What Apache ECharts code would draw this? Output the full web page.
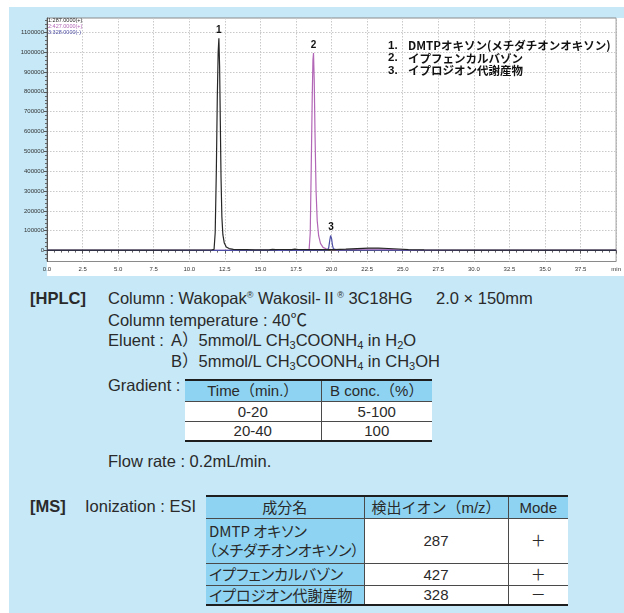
<!DOCTYPE html>
<html lang="ja">
<head>
<meta charset="utf-8">
<title>HPLC/MS 分析例</title>
<script src="https://cdn.jsdelivr.net/npm/echarts@6/dist/echarts.min.js"></script>
<style>
html,body{margin:0;padding:0;background:#fff;}
#page{position:relative;width:624px;height:613px;overflow:hidden;}
#panel{position:absolute;left:9px;top:7px;right:0;bottom:0;background:#c6e8f7;}
#plotbg{position:absolute;left:47px;top:18px;width:577px;height:258px;background:#fff;}
#chart{position:absolute;left:0;top:0;width:624px;height:282px;}
.t{position:absolute;white-space:nowrap;font-family:"Liberation Sans","Noto Sans CJK JP",sans-serif;font-size:16.5px;line-height:18px;color:#2a2a2a;}
.b{font-weight:bold;}
sub{font-size:11px;vertical-align:-3px;line-height:0;}
sup{font-size:9px;vertical-align:6px;line-height:0;}
table{position:absolute;border-collapse:collapse;table-layout:fixed;font-family:"Liberation Sans","Noto Sans CJK JP",sans-serif;font-size:15px;color:#2a2a2a;}
th,td{padding:0;font-weight:normal;text-align:center;border:1px solid #4a4a4a;line-height:17px;}
th{background:#8ed4f2;}
td{background:#fff;}
td.name{background:#8ed4f2;text-align:left;padding-left:3px;font-family:"Noto Sans CJK JP",sans-serif;font-feature-settings:"palt" 1;line-height:18.5px;}
tr:first-child th{border-top:2px solid #1e1e1e;}
tr:last-child td{border-bottom:2px solid #1e1e1e;}
th:first-child,td:first-child{border-left:none;}
th:last-child,td:last-child{border-right:none;}
</style>
</head>
<body>
<div id="page">
  <div id="panel"></div>
  <div id="plotbg"></div>
  <div id="chart"></div>

  <div class="t b" style="left:30px;top:289px">[HPLC]</div>
  <div class="t" style="left:108px;top:289px">Column : Wakopak<sup>®</sup> Wakosil-Ⅱ<sup>®</sup> 3C18HG</div>
  <div class="t" style="left:436px;top:289px">2.0 × 150mm</div>
  <div class="t" style="left:108px;top:310.5px">Column temperature : 40℃</div>
  <div class="t" style="left:108px;top:331px">Eluent :</div>
  <div class="t" style="left:171px;top:331px">A）5mmol/L CH<sub>3</sub>COONH<sub>4</sub> in H<sub>2</sub>O</div>
  <div class="t" style="left:171px;top:351.5px">B）5mmol/L CH<sub>3</sub>COONH<sub>4</sub> in CH<sub>3</sub>OH</div>
  <div class="t" style="left:108px;top:376px">Gradient :</div>
  <table id="gradTable" style="left:185px;top:379px;width:247px;"></table>
  <div class="t" style="left:108px;top:451.5px">Flow rate : 0.2mL/min.</div>

  <div class="t b" style="left:30px;top:497px">[MS]</div>
  <div class="t" style="left:85px;top:497px">Ionization : ESI</div>
  <table id="msTable" style="left:206px;top:495px;width:362px;"></table>
</div>

<script>
// Chromatogram traces (retention time in min, intensity in counts)
const rt287 = [0, 4, 8, 11.55, 11.74, 11.82, 11.9, 11.97, 12.03, 12.08, 12.13, 12.18, 12.23, 12.29, 12.36, 12.46, 12.6, 12.8, 13.1, 13.6, 13.8, 13.9, 14.05, 14.6, 15.6, 15.85, 15.95, 16.08, 16.3, 16.42, 16.55, 17.2, 17.42, 17.52, 17.65, 18.3, 19.2, 20.2, 21.0, 21.8, 22.6, 23.3, 24.0, 24.7, 25.4, 26.5, 30, 35, 40];
const int287 = [2500, 2500, 2500, 3000, 6000, 90000, 400000, 780000, 1000000, 1070000, 930000, 650000, 370000, 170000, 80000, 38000, 18000, 10000, 6000, 4500, 5500, 7500, 5000, 4000, 4000, 6500, 8000, 5000, 5500, 8500, 5500, 5000, 7500, 11000, 5500, 4500, 4500, 5000, 7000, 10000, 12000, 12000, 10500, 8000, 5000, 3500, 2500, 2500, 2500];

const rt427 = [0, 5, 10, 15, 18.0, 18.42, 18.5, 18.57, 18.64, 18.69, 18.73, 18.78, 18.84, 18.91, 18.99, 19.09, 19.22, 19.4, 19.65, 20.0, 20.6, 21.5, 22.4, 23.3, 24.2, 25.2, 26.5, 40];
const int427 = [1000, 1000, 1000, 1500, 2000, 3500, 90000, 420000, 770000, 960000, 995000, 860000, 570000, 300000, 150000, 75000, 36000, 16000, 8000, 5000, 4000, 5500, 7500, 7500, 5500, 3000, 1500, 1000];

const rt328 = [0, 10, 19.0, 19.72, 19.8, 19.87, 19.93, 19.96, 20.0, 20.06, 20.13, 20.22, 20.4, 21.5, 40];
const int328 = [1000, 1000, 1500, 2500, 15000, 50000, 76000, 78000, 60000, 28000, 9000, 4000, 2500, 2000, 1000];

const traceNames = ['1:287.0000(+)', '2:427.0000(+)', '3:328.0000(-)'];
const traceColors = ['#262626', '#b266b6', '#4e4ea6'];
const peakLabels = ['1', '2', '3'];
const compoundNames = ['DMTPオキソン(メチダチオンオキソン)', 'イプフェンカルバゾン', 'イプロジオン代謝産物'];

// Axis ticks
const yTicks = [0, 100000, 200000, 300000, 400000, 500000, 600000, 700000, 800000, 900000, 1000000, 1100000];
const yMinorTicks = [];
for (let v = -40000; v <= 1160000; v += 20000) if (v % 100000 !== 0) yMinorTicks.push(v);
const xUnit = 'min';

// Method tables
const gradHead = ['Time（min.）', 'B conc.（%）'];
const gradTime = ['0-20', '20-40'];
const gradConc = ['5-100', '100'];

const msHead = ['成分名', '検出イオン（m/z）', 'Mode'];
const msNames = ['DMTP オキソン<br>（メチダチオンオキソン）', 'イプフェンカルバゾン', 'イプロジオン代謝産物'];
const msIons = [287, 427, 328];
const msModes = ['＋', '＋', '－'];

function buildTables() {
  const g = document.getElementById('gradTable');
  let h = '<colgroup><col style="width:136px"><col style="width:111px"></colgroup>';
  h += '<tr style="height:21px">' + gradHead.map(s => '<th>' + s + '</th>').join('') + '</tr>';
  gradTime.forEach((t, i) => {
    h += '<tr style="height:20px"><td>' + t + '</td><td>' + gradConc[i] + '</td></tr>';
  });
  g.innerHTML = h;

  const m = document.getElementById('msTable');
  const rowH = [45, 22, 20];
  let k = '<colgroup><col style="width:158px"><col style="width:144px"><col style="width:60px"></colgroup>';
  k += '<tr style="height:22px">' + msHead.map(s => '<th>' + s + '</th>').join('') + '</tr>';
  msNames.forEach((n, i) => {
    k += '<tr style="height:' + rowH[i] + 'px"><td class="name">' + n + '</td><td>' + msIons[i] + '</td><td>' + msModes[i] + '</td></tr>';
  });
  m.innerHTML = k;
}
buildTables();

function pairs(t, v) { return t.map((x, i) => [x, v[i]]); }
function apex(t, v) {
  let i = 0;
  v.forEach((y, j) => { if (y > v[i]) i = j; });
  return [t[i], v[i]];
}

const traces = [
  { t: rt287, v: int287 },
  { t: rt427, v: int427 },
  { t: rt328, v: int328 }
];

function makeSeries(i) {
  const tr = traces[i];
  return {
    name: traceNames[i],
    type: 'line',
    data: pairs(tr.t, tr.v),
    showSymbol: false,
    symbol: 'none',
    lineStyle: { color: traceColors[i], width: 1.2 },
    itemStyle: { color: traceColors[i] },
    markPoint: {
      symbol: 'circle',
      symbolSize: 1,
      itemStyle: { color: 'rgba(0,0,0,0)' },
      label: {
        show: true, position: 'top', distance: 2,
        formatter: peakLabels[i],
        fontFamily: 'Liberation Sans', fontWeight: 'bold', fontSize: 10, color: '#111'
      },
      data: [{ coord: apex(tr.t, tr.v) }]
    }
  };
}

const yMin = -55000, yMax = 1172000;
const gridLine = { show: true, lineStyle: { color: '#c9c9c9', width: 1, type: [1.5, 1.5] } };

const chart = echarts.init(document.getElementById('chart'), null, { renderer: 'canvas' });
chart.setOption({
  animation: false,
  textStyle: { fontFamily: 'Liberation Sans' },
  legend: {
    data: traceNames.map((n, i) => ({ name: n, icon: 'none', textStyle: { color: traceColors[i] } })),
    orient: 'vertical', left: 43, top: 17, padding: 0, itemGap: 0,
    itemWidth: 0, itemHeight: 6, selectedMode: false,
    textStyle: { fontSize: 5.5, lineHeight: 6 }
  },
  grid: {
    left: 47, top: 18, right: 1, bottom: 20.5,
    show: true, borderColor: '#8a8a8a', borderWidth: 1, backgroundColor: '#fff'
  },
  xAxis: {
    type: 'value', min: 0, max: 40, interval: 2.5,
    axisLine: { lineStyle: { color: '#555' } },
    axisTick: { length: 3, lineStyle: { color: '#555' } },
    minorTick: { show: true, splitNumber: 5, length: 2, lineStyle: { color: '#666' } },
    axisLabel: {
      fontSize: 6, color: '#333', margin: 5,
      formatter: v => (v === 40 ? xUnit : v.toFixed(1))
    },
    splitLine: gridLine
  },
  yAxis: [
    {
      type: 'value', min: yMin, max: yMax,
      axisLine: { show: true, lineStyle: { color: '#555' } },
      axisTick: { show: true, customValues: yTicks, length: 3, lineStyle: { color: '#555' } },
      axisLabel: { customValues: yTicks, fontSize: 6, color: '#333', margin: 3, formatter: v => String(v) },
      splitLine: gridLine
    },
    {
      type: 'value', min: yMin, max: yMax, position: 'left',
      axisLine: { show: false },
      axisTick: { show: true, customValues: yMinorTicks, length: 2, lineStyle: { color: '#666' } },
      axisLabel: { show: false },
      splitLine: { show: false }
    }
  ],
  graphic: compoundNames.flatMap((name, i) => [
    {
      type: 'text', x: 388, y: 46 + i * 12.3, z: 10,
      style: { text: (i + 1) + '.', verticalAlign: 'middle', fill: '#111', font: 'bold 11.5px "Liberation Sans"' }
    },
    {
      type: 'text', x: 408, y: 46 + i * 12.3, z: 10,
      style: { text: name, verticalAlign: 'middle', fill: '#111', font: 'bold 11.5px "Noto Sans CJK JP"' }
    }
  ]),
  series: [makeSeries(1), makeSeries(2), makeSeries(0)]
});
</script>
</body>
</html>
